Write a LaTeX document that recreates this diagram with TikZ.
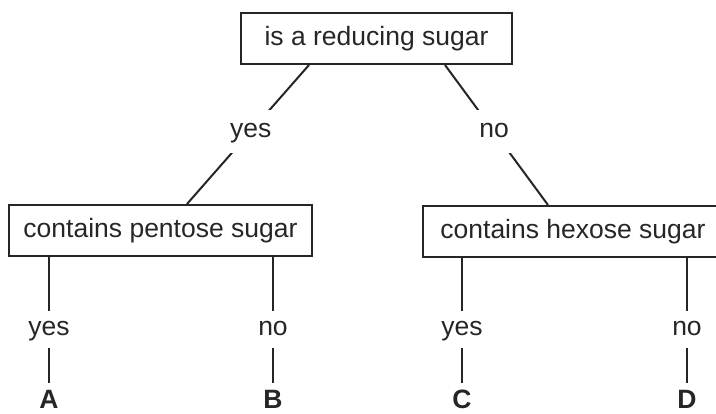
\documentclass[tikz,border=0pt]{standalone}
\usepackage{fontspec}
\setmainfont{Liberation Sans}
\usetikzlibrary{positioning}

\begin{document}
\begin{tikzpicture}[x=1pt, y=-1pt, line width=2pt, draw=black!85,
    every node/.style={align=center, font=\fontsize{26.5}{32}\selectfont, text=black!85},
    test/.style={draw, minimum height=51pt, inner sep=0pt},
    answer/.style={fill=white, inner ysep=0pt, inner xsep=2pt, text height=14pt, text depth=2pt, minimum height=43pt},
    leaf/.style={font=\fontsize{26.5}{32}\selectfont\bfseries, inner sep=0pt, outer ysep=7pt}]
    \useasboundingbox (0,0) rectangle (716,414);

    \node[test, minimum width=271pt] (reducing) at (376.5,38.5) {is a reducing sugar};
    \node[test, minimum width=303pt] (pentose) at (160.5,230.5) {contains pentose sugar};
    \node[test, minimum width=300pt] (hexose) at (573,231.5) {contains hexose sugar};

    \node[leaf] (A) at (49,399.5) {A};
    \node[leaf] (B) at (273,399.5) {B};
    \node[leaf] (C) at (462,399.5) {C};
    \node[leaf] (D) at (687,399.5) {D};

    \draw ([xshift=-67.5pt]reducing.south) -- node[answer, pos=0.477] (yesreduce) {yes} ([xshift=26.5pt]pentose.north);
    \draw ([xshift=68.5pt]reducing.south) -- node[answer, pos=0.477] (noreduce) {no} ([xshift=-25pt]hexose.north);

    \draw (pentose.south -| A) -- node[answer, pos=0.571, minimum height=37pt] (yespent) {yes} (A);
    \draw (pentose.south -| B) -- node[answer, pos=0.571, minimum height=37pt] (nopent) {no} (B);
    \draw (hexose.south -| C) -- node[answer, pos=0.571, minimum height=37pt] (yeshex) {yes} (C);
    \draw (hexose.south -| D) -- node[answer, pos=0.571, minimum height=37pt] (nohex) {no} (D);
  \end{tikzpicture}
\end{document}
